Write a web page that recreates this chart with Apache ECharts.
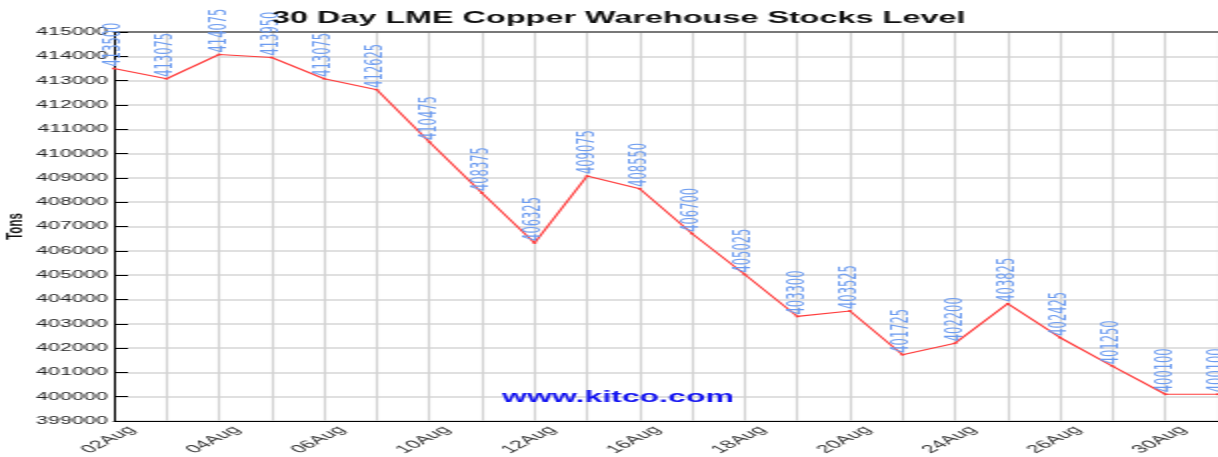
<!DOCTYPE html>
<html>
<head>
<meta charset="utf-8">
<script src="https://cdn.jsdelivr.net/npm/echarts@6/dist/echarts.min.js"></script>
<style>
html,body{margin:0;padding:0;background:#fff;}
#wrap{width:1218px;height:457px;overflow:hidden;position:relative;}
#chart{width:609px;height:457px;transform:scaleX(2);transform-origin:0 0;}
</style>
</head>
<body>
<div id="wrap"><div id="chart"></div></div>
<script>
// Data
const categories = ['02Aug','03Aug','04Aug','05Aug','06Aug','09Aug','10Aug','11Aug','12Aug','13Aug','16Aug','17Aug','18Aug','19Aug','20Aug','23Aug','24Aug','25Aug','26Aug','27Aug','30Aug','31Aug'];
const stocks = [413500,413075,414075,413950,413075,412625,410475,408375,406325,409075,408550,406700,405025,403300,403525,401725,402200,403825,402425,401250,400100,400100];
const yMin = 399000;
const yMax = 415000;
const yStep = 1000;
const titleText = '30 Day LME Copper Warehouse Stocks Level';
const yName = 'Tons';
const watermark = 'www.kitco.com';

const chart = echarts.init(document.getElementById('chart'), null, {renderer:'canvas', width:609, height:457});
chart.setOption({
  animation:false,
  backgroundColor:'#ffffff',
  title:{
    text:titleText, left:131, top:6,
    textStyle:{fontFamily:'Liberation Sans, Arial, sans-serif', fontWeight:'bold', fontSize:16.2, color:'#111'}
  },
  grid:{left:57, right:0, top:32, bottom:36, outerBoundsMode:'none', containLabel:false},
  xAxis:[{
    type:'category', data:categories, boundaryGap:false,
    axisLine:{show:true, lineStyle:{color:'#000', width:1}},
    axisTick:{show:false},
    axisLabel:{interval:1, rotate:45, align:'center', verticalAlign:'middle', margin:16, padding:[0,8,0,0],
      fontFamily:'Liberation Sans, Arial, sans-serif', fontSize:11.5, color:'#333'},
    splitLine:{show:true, interval:0, lineStyle:{color:'#d2d2d2', width:1.2}}
  },{
    type:'category', data:categories, boundaryGap:false, position:'top',
    axisLine:{show:true, lineStyle:{color:'#555', width:1.5}},
    axisTick:{show:false}, axisLabel:{show:false}, splitLine:{show:false}
  }],
  yAxis:{
    type:'value', min:yMin, max:yMax, interval:yStep,
    name:yName, nameLocation:'middle', nameGap:43, nameRotate:90, nameMoveOverlap:false,
    nameTextStyle:{fontFamily:'Liberation Sans, Arial, sans-serif', fontWeight:'bold', fontSize:11.5, color:'#111'},
    axisLine:{show:true, lineStyle:{color:'#000', width:1}},
    axisTick:{show:true, inside:true, length:7, lineStyle:{color:'#000', width:1}},
    axisLabel:{margin:3, formatter:v => String(v),
      fontFamily:'Liberation Sans, Arial, sans-serif', fontSize:10.8, color:'#222'},
    splitLine:{show:true, lineStyle:{color:'#d6d6d6', width:1.5}}
  },
  graphic:[{
    type:'text', x:309, y:398, z:1,
    style:{text:watermark, font:'bold 16px "Liberation Sans", Arial, sans-serif', fill:'#1414f0', align:'center', verticalAlign:'middle'}
  }],
  series:[{
    type:'line', data:stocks, xAxisIndex:0,
    showSymbol:true, symbol:'circle', symbolSize:2,
    lineStyle:{color:'#ff3c3c', width:1.2},
    itemStyle:{color:'#ff3c3c'},
    label:{show:true, position:'top', distance:1, rotate:90, align:'left', verticalAlign:'middle',
      formatter:p => String(p.value),
      fontFamily:'DejaVu Sans, sans-serif', fontSize:11.5, color:'#6d9cf0'},
    labelLayout:{hideOverlap:false},
    z:3
  }]
});
</script>
</body>
</html>
